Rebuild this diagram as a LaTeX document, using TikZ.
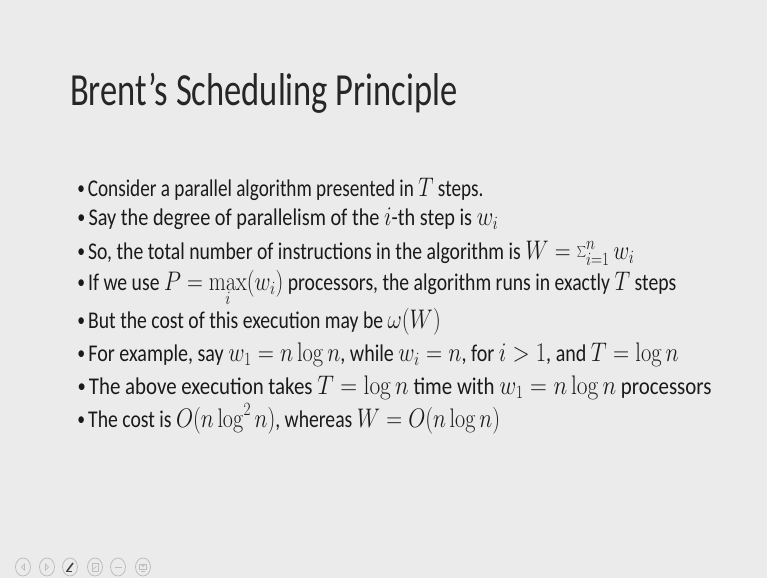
\documentclass[tikz,border=0pt]{standalone}
\usepackage[no-math]{fontspec}
\setmainfont{Carlito}
\usepackage{graphicx}
\definecolor{bg}{HTML}{EBEBEB}
\definecolor{txt}{HTML}{1A1A1A}
\definecolor{ttl}{HTML}{262626}
\definecolor{ico}{HTML}{BDBDBD}
\newcommand\sq[1]{\scalebox{0.75}[1]{#1}}
\newcommand\sqb[2][0.82]{\scalebox{#1}[1]{#2}}
\newcommand\mm[1]{\scalebox{1.08}{$#1$}}
\newcommand\bul{\makebox[14.6pt][l]{\hspace{1.5pt}\raisebox{1.5pt}{\fontsize{19}{20}\selectfont\textbullet}}}
\begin{document}
\begin{tikzpicture}[x=1pt,y=-1pt,
  titletext/.style={anchor=base west, inner sep=0pt, text=ttl, font=\fontsize{46}{50}\selectfont},
  bline/.style={anchor=base west, inner sep=0pt, text=txt, font=\fontsize{24}{28}\selectfont},
  glyph/.style={draw=ico, line width=0.7pt}]
\fill[bg] (0,0) rectangle (767,578);
\useasboundingbox (0,0) rectangle (767,578);
\node[titletext] (title) at (70,105) {\sq{Brent’s Scheduling Principle}};
\node[bline] (l1) at (76,196) {\sqb[0.80]{\bul Consider a parallel algorithm presented in \mm{T} steps.}};
\node[bline] (l2) at (76,225) {\sqb[0.845]{\bul Say the degree of parallelism of the \mm{i}-th step is \mm{w_i}}};
\node[bline] (l3) at (76,259) {\sqb{\bul So, the total number of instructions in the algorithm is \mm{W=\textstyle\sum_{i=1}^{n} w_i}}};
\node[bline] (l4) at (76,290) {\sqb{\bul If we use \mm{P=\max\limits_{i}(w_i)} processors, the algorithm runs in exactly \mm{T} steps}};
\node[bline] (l5) at (76,328) {\sqb{\bul But the cost of this execution may be \mm{\omega(W)}}};
\node[bline] (l6) at (76,361) {\sqb[0.835]{\bul For example, say \mm{w_1=n\log n}, while \mm{w_i=n}, for \mm{i>1}, and \mm{T=\log n}}};
\node[bline] (l7) at (76,394) {\sqb[0.87]{\bul The above execution takes \mm{T=\log n} time with \mm{w_1=n\log n} processors}};
\node[bline] (l8) at (76,427) {\sqb{\bul The cost is \mm{O(n\log^2 n)}, whereas \mm{W=O(n\log n)}}};
% navigation icons
\foreach \x [count=\k] in {23,47,70,95,118,143}{
  \draw[ico, line width=0.8pt] (\x,567) ellipse (7.5pt and 9pt);
  \coordinate (ic\k) at (\x,567);
}
\draw[glyph] ([shift={(1.5,-3)}]ic1) -- ([shift={(-1.5,0)}]ic1) -- ([shift={(1.5,3)}]ic1) -- cycle;
\draw[glyph] ([shift={(-1.5,-3)}]ic2) -- ([shift={(1.5,0)}]ic2) -- ([shift={(-1.5,3)}]ic2) -- cycle;
\draw[draw=black!75, line width=1.6pt] ([shift={(-3,4)}]ic3) -- ([shift={(3,-4)}]ic3);
\draw[black!75, line width=0.7pt] ([shift={(-4,4.5)}]ic3) -- ([shift={(2,4.5)}]ic3);
\draw[glyph] ([shift={(-3,-4)}]ic4) rectangle ([shift={(3,4)}]ic4);
\draw[glyph] ([shift={(-1.5,2)}]ic4) -- ([shift={(1.5,-1)}]ic4);
\draw[glyph] ([shift={(-3.5,0)}]ic5) -- ([shift={(3.5,0)}]ic5);
\draw[glyph] ([shift={(-3.5,-3)}]ic6) rectangle ([shift={(3.5,2)}]ic6);
\draw[glyph] ([shift={(-2,4)}]ic6) -- ([shift={(2,4)}]ic6);
\draw[glyph] ([shift={(0,-1.5)}]ic6) circle (1.2pt);
\end{tikzpicture}
\end{document}
